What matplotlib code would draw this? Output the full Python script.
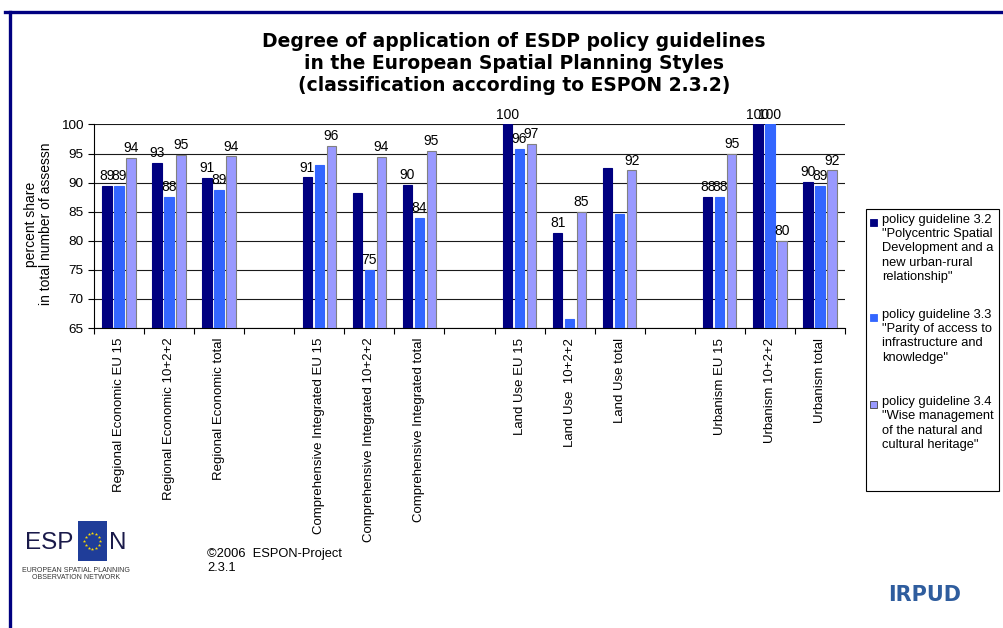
import numpy as np
import matplotlib
matplotlib.use('Agg')
import matplotlib.pyplot as plt
from matplotlib.patches import Rectangle
from matplotlib.lines import Line2D

plt.rcParams['font.family'] = ['Liberation Sans', 'DejaVu Sans']

# Data (empty strings are the gap slots between the planning styles)
categories = ['Regional Economic EU 15', 'Regional Economic 10+2+2', 'Regional Economic total', '',
              'Comprehensive Integrated EU 15', 'Comprehensive Integrated 10+2+2',
              'Comprehensive Integrated total', '',
              'Land Use EU 15', 'Land Use  10+2+2', 'Land Use total', '',
              'Urbanism EU 15', 'Urbanism 10+2+2', 'Urbanism total']
nan = np.nan
pg32 = [89.4, 93.4, 90.8, nan, 90.9, 88.2, 89.6, nan, 100.0, 81.3, 92.5, nan, 87.5, 100.0, 90.1]
pg33 = [89.4, 87.5, 88.7, nan, 93.0, 75.0, 83.9, nan, 95.8, 66.6, 84.6, nan, 87.5, 100.0, 89.4]
pg34 = [94.3, 94.8, 94.5, nan, 96.3, 94.4, 95.4, nan, 96.7, 85.0, 92.1, nan, 94.9, 80.0, 92.1]
# which data labels are shown in the original chart
show32 = [1, 1, 1, 0, 1, 0, 1, 0, 1, 1, 0, 0, 1, 1, 1]
show33 = [1, 1, 1, 0, 0, 1, 1, 0, 1, 0, 0, 0, 1, 1, 1]
show34 = [1, 1, 1, 0, 1, 1, 1, 0, 1, 1, 1, 0, 1, 1, 1]

legend_labels = ['policy guideline 3.2\n"Polycentric Spatial\nDevelopment and a\nnew urban-rural\nrelationship"',
                 'policy guideline 3.3\n"Parity of access to\ninfrastructure and\nknowledge"',
                 'policy guideline 3.4\n"Wise management\nof the natural and\ncultural heritage"']

colors = ['#000080', '#3366FF', '#9999FF']
edges = ['#000080', '#3366FF', '#808080']

fig = plt.figure(figsize=(10.04, 6.28), dpi=100)
ax = fig.add_axes([0.0936, 0.4777, 0.748, 0.3241])

x = np.arange(len(categories))
w = 0.187
for vals, show, off, c, ec in zip([pg32, pg33, pg34], [show32, show33, show34],
                                   [-0.24, 0, 0.24], colors, edges):
    bars = ax.bar(x + off, vals, w, bottom=0, color=c, edgecolor=ec, linewidth=0.8, zorder=3)
    labs = [f'{v:.0f}' if s else '' for v, s in zip(vals, show)]
    ax.bar_label(bars, labels=labs, padding=2, fontsize=10, zorder=4)

ax.set_ylim(65, 100)
ax.set_xlim(-0.5, len(categories) - 0.5)
ax.set_yticks(np.arange(65, 101, 5))
ax.tick_params(axis='y', labelsize=9.7, length=4, direction='out', width=0.8)
ax.yaxis.grid(True, color='#1a1a1a', linewidth=0.8, zorder=0)
ax.set_axisbelow(True)

ax.set_xticks(np.arange(-0.5, len(categories), 1))
ax.set_xticklabels([])
ax.set_xticks(x, minor=True)
ax.set_xticklabels(categories, minor=True, rotation=90, fontsize=9.5, va='top')
ax.tick_params(axis='x', which='major', length=4, direction='out', width=0.8)
ax.tick_params(axis='x', which='minor', length=0, pad=7)

for s in ['top', 'right']:
    ax.spines[s].set_visible(False)
ax.spines['left'].set_linewidth(0.8)
ax.spines['bottom'].set_linewidth(0.8)

ax.set_ylabel('percent share\nin total number of assessn', fontsize=10, linespacing=1.1)
ax.yaxis.set_label_coords(-0.054, 0.51)

fig.text(0.512, 0.949, 'Degree of application of ESDP policy guidelines\n'
         'in the European Spatial Planning Styles\n'
         '(classification according to ESPON 2.3.2)',
         ha='center', va='top', fontsize=13.5, fontweight='bold',
         family='DejaVu Sans', linespacing=1.2)

# legend box, drawn by hand so each square sits on the first text line
fig.add_artist(Rectangle((866 / 1004, 1 - 491 / 628), 133 / 1004, 282 / 628,
                         transform=fig.transFigure, facecolor='white',
                         edgecolor='black', linewidth=0.8))
for lab, c, ec, ytop in zip(legend_labels, colors, ['#000080', '#3366FF', '#404040'], [214, 309, 396]):
    fig.add_artist(Rectangle((870 / 1004, 1 - (ytop + 12) / 628), 7 / 1004, 7 / 628,
                             transform=fig.transFigure, facecolor=c, edgecolor=ec, linewidth=0.6))
    fig.text(882 / 1004, 1 - ytop / 628, lab, ha='left', va='top', fontsize=9.3, linespacing=1.25)

# frame lines
fig.add_artist(Line2D([5 / 1004, 1], [1 - 12 / 628] * 2, transform=fig.transFigure,
                      color='#000080', linewidth=2.4))
fig.add_artist(Line2D([10.5 / 1004] * 2, [0, 1 - 12 / 628], transform=fig.transFigure,
                      color='#000080', linewidth=2.4))

# ESPON logo
fig.text(25 / 1004, 1 - 549 / 628, 'ESP', fontsize=17.5, color='#1a1a4a', ha='left', va='baseline')
fig.text(109 / 1004, 1 - 549 / 628, 'N', fontsize=17.5, color='#1a1a4a', ha='left', va='baseline')
fig.add_artist(Rectangle((78 / 1004, 1 - 561 / 628), 29 / 1004, 40 / 628,
                         transform=fig.transFigure, facecolor='#1f3d99', edgecolor='none'))
ang = np.linspace(0, 2 * np.pi, 12, endpoint=False)
fig.add_artist(Line2D((92.5 + 8 * np.cos(ang)) / 1004, 1 - (541 + 8 * np.sin(ang)) / 628,
                      transform=fig.transFigure, linestyle='none', marker='*',
                      markersize=2.5, color='#ffdd00', markeredgewidth=0))
fig.text(76 / 1004, 1 - 574 / 628, 'EUROPEAN SPATIAL PLANNING\nOBSERVATION NETWORK',
         fontsize=5, color='#333333', ha='center', va='center', linespacing=1.1)

fig.text(207 / 1004, 1 - 548 / 628, '\u00a92006  ESPON-Project\n2.3.1', fontsize=9.3,
         ha='left', va='top', linespacing=1.25)

fig.text(888 / 1004, 1 - 601 / 628, 'IRPUD', fontsize=15, fontweight='bold',
         family='DejaVu Sans', color='#2f5d9e', ha='left', va='baseline')

fig.savefig('out.png', dpi=100)
